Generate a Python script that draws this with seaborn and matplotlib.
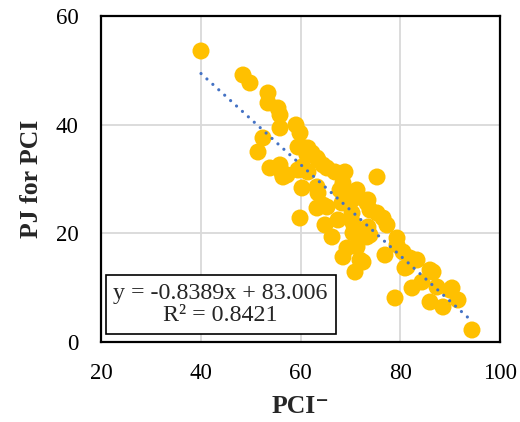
import numpy as np
import pandas as pd
import matplotlib
matplotlib.use("Agg")
import matplotlib.pyplot as plt
import seaborn as sns

# ---- data ----
pci = [40.05, 48.47, 49.87, 53.48, 53.48, 55.49, 55.89, 55.89, 59.10, 59.90,
       52.48, 51.48, 60.30, 61.30, 62.31, 63.51, 53.88, 55.89, 56.49, 56.29,
       60.30, 61.50, 65.31, 66.92, 68.92, 68.52, 69.32, 71.33, 70.33, 73.53,
       73.93, 76.54, 77.34, 75.34, 60.30, 63.31, 63.31, 65.31, 59.90, 67.52,
       64.91, 66.32, 70.53, 71.93, 73.33, 71.33, 68.52, 72.53, 70.93, 76.94,
       79.35, 80.55, 81.35, 83.36, 78.95, 82.36, 80.95, 86.57, 85.97, 88.57,
       90.38, 91.58, 94.38, 59.50, 61.50, 63.31, 64.51, 57.29, 59.50, 60.90,
       67.92, 63.51, 64.51, 71.33, 73.33, 75.34, 70.33, 68.32, 73.53, 73.93,
       70.53, 69.32, 71.93, 85.97, 81.96, 84.36, 87.37, 89.97, 79.35]
pj = [53.56, 49.14, 47.67, 45.83, 43.99, 43.07, 41.78, 39.39, 39.94, 38.47,
      37.55, 34.97, 35.89, 34.42, 34.79, 33.50, 32.03, 32.58, 30.37, 31.11,
      32.21, 31.29, 32.03, 31.29, 31.29, 29.27, 27.61, 27.98, 26.14, 26.14,
      24.30, 22.82, 21.54, 30.37, 28.35, 28.53, 24.66, 24.85, 22.82, 22.46,
      21.54, 19.33, 21.90, 20.25, 19.33, 17.49, 15.65, 14.72, 12.88, 16.01,
      19.14, 16.57, 13.80, 15.09, 8.10, 9.94, 13.62, 12.88, 7.36, 6.44,
      9.94, 7.73, 2.21, 35.89, 35.71, 33.87, 32.58, 30.74, 31.66, 31.66,
      27.98, 27.42, 25.22, 26.69, 25.58, 23.74, 23.74, 25.58, 21.17, 19.69,
      20.06, 17.30, 15.09, 13.25, 15.46, 11.04, 10.12, 9.57, 17.85]

slope = -0.8389
intercept = 83.006
r_squared = 0.8421
x_ticks = [20, 40, 60, 80, 100]
y_ticks = [0, 20, 40, 60]
x_label = "PCI\u207b"
y_label = "PJ for PCI"
eq_text = f"y = {slope}x + {intercept}\nR\u00b2 = {r_squared}"

# ---- style ----
sns.set_theme(style="white")
plt.rcParams["font.family"] = ["Liberation Serif", "DejaVu Serif"]

fig = plt.figure(figsize=(5.2, 4.22), dpi=100)
ax = fig.add_axes([101 / 520, 1 - 342 / 422, 399 / 520, 326 / 422])

df = pd.DataFrame({"PCI": pci, "PJ": pj})
sns.scatterplot(data=df, x="PCI", y="PJ", ax=ax, color="#FFC000", s=150,
                edgecolor="none", linewidth=0, alpha=1, zorder=3, legend=False)

xs = np.array([df["PCI"].min(), df["PCI"].max()])
line_df = pd.DataFrame({"x": xs, "y": slope * xs + intercept})
sns.lineplot(data=line_df, x="x", y="y", ax=ax, color="#4472C4",
             linewidth=2.3, zorder=4, legend=False)
ln = ax.lines[-1]
ln.set_linestyle((0, (0.01, 2.5)))
ln.set_dash_capstyle("round")

ax.set_xlim(20, 100)
ax.set_ylim(0, 60)
ax.set_xticks(x_ticks)
ax.set_yticks(y_ticks)
ax.grid(True, color="#D9D9D9", linewidth=1.3, zorder=0)
ax.set_axisbelow(True)
for sp in ax.spines.values():
    sp.set_color("black")
    sp.set_linewidth(1.6)
ax.tick_params(axis="both", length=0, labelsize=16.5, colors="black")
ax.tick_params(axis="x", pad=15)
ax.tick_params(axis="y", pad=16)

ax.set_xlabel(x_label, fontsize=18.5, fontweight="bold", labelpad=8)
ax.set_ylabel(y_label, fontsize=18.5, fontweight="bold", labelpad=9)

ax.text(0.30, 0.115, eq_text, transform=ax.transAxes, ha="center", va="center",
        fontsize=17.3, multialignment="center", zorder=6, linespacing=1.12,
        bbox=dict(boxstyle="square,pad=0.32", fc="white", ec="black", lw=1.2))

fig.savefig("out.png", dpi=100)
